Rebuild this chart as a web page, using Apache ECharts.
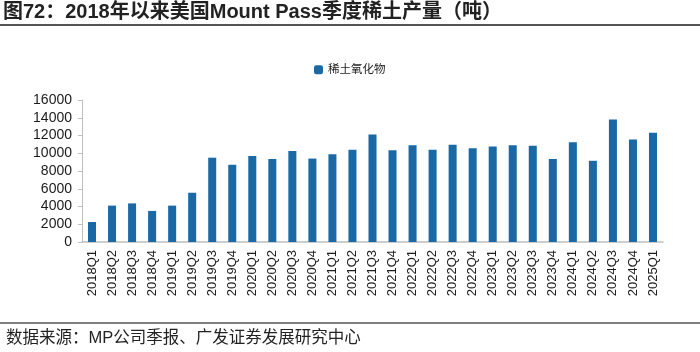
<!DOCTYPE html>
<html>
<head>
<meta charset="utf-8">
<script src="https://cdn.jsdelivr.net/npm/echarts@6/dist/echarts.min.js"></script>
<style>
  html, body { margin: 0; padding: 0; background: #fff; }
  #chart { width: 700px; height: 352px; }
</style>
</head>
<body>
<div id="chart"></div>
<script>
const TITLE = "图72：2018年以来美国Mount Pass季度稀土产量（吨）";
const SOURCE = "数据来源：MP公司季报、广发证券发展研究中心";
const SERIES_NAME = "稀土氧化物";

const quarters = [
  "2018Q1", "2018Q2", "2018Q3", "2018Q4",
  "2019Q1", "2019Q2", "2019Q3", "2019Q4",
  "2020Q1", "2020Q2", "2020Q3", "2020Q4",
  "2021Q1", "2021Q2", "2021Q3", "2021Q4",
  "2022Q1", "2022Q2", "2022Q3", "2022Q4",
  "2023Q1", "2023Q2", "2023Q3", "2023Q4",
  "2024Q1", "2024Q2", "2024Q3", "2024Q4",
  "2025Q1",
];
const output = [
  2250, 4100, 4350, 3500,
  4100, 5550, 9500, 8700,
  9700, 9350, 10250, 9400,
  9900, 10400, 12100, 10350,
  10900, 10400, 10950, 10550,
  10750, 10900, 10850, 9350,
  11250, 9150, 13800, 11550,
  12300,
];
const yTicks = [0, 2000, 4000, 6000, 8000, 10000, 12000, 14000, 16000];

const BAR = "#1a68a4";
const TEXT = "#1a1a1a";
const AXIS = "#bfbfbf";
const FONT = "'Liberation Sans', 'Noto Sans CJK SC', sans-serif";

const chart = echarts.init(document.getElementById("chart"), null, { renderer: "canvas" });

chart.setOption({
  animation: false,
  backgroundColor: "#fff",
  textStyle: { fontFamily: FONT },
  title: {
    text: TITLE,
    left: 3,
    top: 2,
    padding: 0,
    textStyle: { fontSize: 20, fontWeight: "bold", color: "#222", fontFamily: FONT },
  },
  graphic: [
    { type: "line", shape: { x1: 0, y1: 25, x2: 700, y2: 25 }, style: { stroke: "#555", lineWidth: 2 } },
    { type: "line", shape: { x1: 0, y1: 323, x2: 700, y2: 323 }, style: { stroke: "#555", lineWidth: 1.5 } },
    {
      type: "text",
      left: 6,
      top: 330,
      style: { text: SOURCE, font: "16.5px " + FONT, fill: "#222" },
    },
  ],
  legend: {
    data: [SERIES_NAME],
    left: 309,
    top: 59,
    itemWidth: 9,
    itemHeight: 9,
    itemGap: 4,
    textStyle: { fontSize: 11.5, color: TEXT, fontFamily: FONT },
  },
  grid: { left: 82, right: 37, top: 100, bottom: 110 },
  xAxis: {
    type: "category",
    data: quarters,
    axisLine: { lineStyle: { color: AXIS, width: 1.5 } },
    axisTick: { show: false },
    axisLabel: { rotate: 90, interval: 0, fontSize: 13, color: TEXT, margin: 8 },
  },
  yAxis: {
    type: "value",
    min: yTicks[0],
    max: yTicks[yTicks.length - 1],
    interval: 2000,
    axisLine: { show: true, lineStyle: { color: AXIS } },
    axisTick: { show: true, length: 4, lineStyle: { color: AXIS } },
    axisLabel: { fontSize: 14, color: TEXT, margin: 10, formatter: (v) => String(v) },
    splitLine: { show: false },
  },
  series: [
    {
      name: SERIES_NAME,
      type: "bar",
      data: output,
      barWidth: "40%",
      itemStyle: { color: BAR },
    },
  ],
});
</script>
</body>
</html>
